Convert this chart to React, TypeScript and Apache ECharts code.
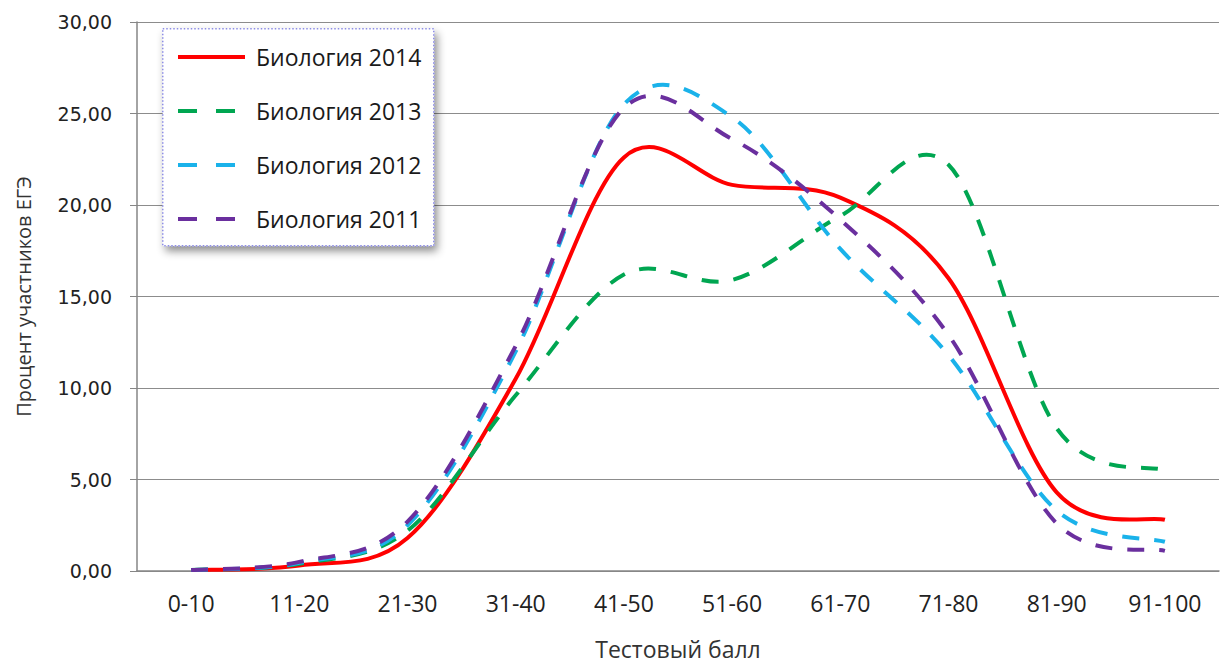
import React, { useEffect, useRef } from "react";
import * as echarts from "echarts";

const categories = ["0-10", "11-20", "21-30", "31-40", "41-50", "51-60", "61-70", "71-80", "81-90", "91-100"];
const bio2014 = [0.05, 0.3, 1.8, 10.5, 22.6, 21.1, 20.4, 16.0, 4.3, 2.8];
const bio2013 = [0.05, 0.4, 2.2, 9.6, 16.2, 15.9, 19.4, 22.2, 7.8, 5.5];
const bio2012 = [0.05, 0.45, 2.5, 12.0, 25.5, 24.8, 17.6, 11.8, 3.3, 1.6];
const bio2011 = [0.05, 0.5, 2.7, 12.3, 25.3, 23.6, 19.2, 12.9, 2.6, 1.1];
const seriesNames = ["Биология 2014", "Биология 2013", "Биология 2012", "Биология 2011"];
const yTicks = { min: 0, max: 30, interval: 5 };

const FONT = "'Open Sans', sans-serif";
const SOLID_ICON = "path://M0,0h67v4h-67z";
const DASH_ICON = "path://M0,0h19v4h-19z M38,0h19v4h-19z M66.9,3.9h0.1v0.1h-0.1z";

function smoothPath(pts: number[][]): string {
  const n = pts.length;
  let d = `M${pts[0][0]},${pts[0][1]}`;
  for (let i = 0; i < n - 1; i++) {
    const p0 = pts[Math.max(0, i - 1)];
    const p1 = pts[i];
    const p2 = pts[i + 1];
    const p3 = pts[Math.min(n - 1, i + 2)];
    const c1x = p1[0] + (p2[0] - p0[0]) / 6;
    const c1y = p1[1] + (p2[1] - p0[1]) / 6;
    const c2x = p2[0] - (p3[0] - p1[0]) / 6;
    const c2y = p2[1] - (p3[1] - p1[1]) / 6;
    d += ` C${c1x},${c1y} ${c2x},${c2y} ${p2[0]},${p2[1]}`;
  }
  return d;
}

export default function App() {
  const ref = useRef<HTMLDivElement>(null);
  useEffect(() => {
    const chart = echarts.init(ref.current!, null, { renderer: "svg" });
    const mk = (name: string, values: number[], color: string, dashed: boolean) => ({
      name,
      type: "custom",
      coordinateSystem: "cartesian2d",
      encode: { x: 0, y: 1 },
      data: values.map((v, i) => [i, v]),
      itemStyle: { color },
      renderItem: (params: any, api: any) => {
        if (params.dataIndex !== 0) return null;
        const pts = values.map((v, i) => api.coord([i, v]));
        return {
          type: "path",
          shape: { pathData: smoothPath(pts) },
          style: {
            fill: "none",
            stroke: color,
            lineWidth: 4,
            lineDash: dashed ? [17, 15] : null,
          },
        };
      },
    });
    chart.setOption({
      animation: false,
      backgroundColor: "#ffffff",
      grid: { left: 137, right: 3, top: 22, bottom: 91, containLabel: false },
      graphic: [
        {
          type: "rect",
          left: 162,
          top: 28,
          z: 90,
          shape: { width: 271, height: 217 },
          style: {
            fill: "#ffffff",
            stroke: "#8e8ee6",
            lineWidth: 1.5,
            lineDash: [1.5, 2],
            shadowBlur: 8,
            shadowOffsetX: 3,
            shadowOffsetY: 5,
            shadowColor: "rgba(0,0,0,0.45)",
          },
        },
      ],
      legend: {
        orient: "vertical",
        left: 178,
        top: 44,
        padding: 0,
        z: 100,
        itemWidth: 67,
        itemHeight: 4,
        itemGap: 28,
        data: seriesNames.map((name, i) => ({ name, icon: i === 0 ? SOLID_ICON : DASH_ICON })),
        textStyle: { fontFamily: FONT, fontSize: 23, color: "#1a1a1a", lineHeight: 26, padding: [0, 0, 0, 6] },
      },
      xAxis: {
        type: "category",
        data: categories,
        boundaryGap: true,
        name: "Тестовый балл",
        nameLocation: "middle",
        nameGap: 66,
        nameTextStyle: { fontFamily: FONT, fontSize: 23, color: "#333" },
        axisLine: { lineStyle: { color: "#868686", width: 1.5 } },
        axisTick: { show: false },
        axisLabel: { fontFamily: FONT, fontSize: 23, color: "#222", margin: 20 },
      },
      yAxis: {
        type: "value",
        min: yTicks.min,
        max: yTicks.max,
        interval: yTicks.interval,
        name: "Процент участников ЕГЭ",
        nameLocation: "middle",
        nameGap: 104,
        nameTextStyle: { fontFamily: FONT, fontSize: 20, color: "#333" },
        axisLine: { show: true, lineStyle: { color: "#868686", width: 1.5 } },
        axisTick: { show: true, length: 7, lineStyle: { color: "#868686" } },
        axisLabel: {
          fontFamily: "'DejaVu Sans', sans-serif",
          fontSize: 19,
          color: "#222",
          margin: 25,
          formatter: (v: number) => v.toFixed(2).replace(".", ","),
        },
        splitLine: { lineStyle: { color: "#8c8c8c", width: 1.2 } },
      },
      series: [
        mk(seriesNames[0], bio2014, "#ff0000", false),
        mk(seriesNames[1], bio2013, "#00a651", true),
        mk(seriesNames[2], bio2012, "#1ab2ea", true),
        mk(seriesNames[3], bio2011, "#6a2f9e", true),
      ],
    });
    return () => chart.dispose();
  }, []);
  return <div ref={ref} style={{ position: "fixed", left: 0, top: 0, width: 1222, height: 665 }} />;
}
